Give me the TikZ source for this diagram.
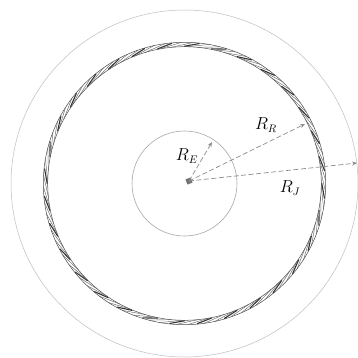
\documentclass[tikz,border=0pt]{standalone}
\usetikzlibrary{arrows.meta}
\begin{document}
\begin{tikzpicture}[x=1pt,y=-1pt,
  thincirc/.style={draw=black!25, line width=0.5pt},
  innercirc/.style={draw=black!35, line width=0.6pt},
  dasharrow/.style={draw=black!45, line width=0.7pt, dash pattern=on 5pt off 2.5pt, -{Stealth[length=5pt,width=4pt]}},
  strand/.style={draw=black!80, line width=1.1pt, line cap=round},
  fstrand/.style={draw=black!60, line width=0.45pt},
  edge/.style={draw=black!70, line width=0.5pt},
  lbl/.style={font=\fontsize{16}{18}\selectfont, inner sep=0pt}]
\useasboundingbox (0,0) rectangle (358,358);
\fill[white] (0,0) rectangle (358,358);
\begin{scope}
\clip (0,0) rectangle (358,358);
\coordinate (c) at (184.5,183.5);
% circles
\draw[thincirc] (c) circle[radius=173.5];
\draw[innercirc] (c) circle[radius=52.5];
% twisted ring
\draw[edge] (c) circle[radius=141.2];
\draw[edge] (c) circle[radius=136.8];
\foreach \k in {0,...,31}{
  \pgfmathsetmacro{\a}{\k*11.25}
  \draw[strand, shift={(c)}] (\a:137.3) -- (\a+6:140.7);
  \draw[fstrand, shift={(c)}] (\a+1:136.8) -- (\a+10:141.2);
  \draw[fstrand, shift={(c)}] (\a+5.6:136.8) -- (\a+14.6:141.2);
}
\end{scope}
% centre marker
\node[fill=black!55, minimum size=5.5pt, inner sep=0pt, rotate=20] (o) at (189,181) {};
\coordinate (te) at (212,142);
\coordinate (tr) at (305,124);
\coordinate (tj) at (357,163);
\draw[dasharrow] (o.center) -- (te);
\draw[dasharrow] (o.center) -- (tr);
\draw[dasharrow] (o.center) -- (tj);
% labels
\node[lbl] (le) at (187,156) {$R_E$};
\node[lbl] (lr) at (266,125) {$R_R$};
\node[lbl] (lj) at (290,188) {$R_J$};
\end{tikzpicture}
\end{document}
